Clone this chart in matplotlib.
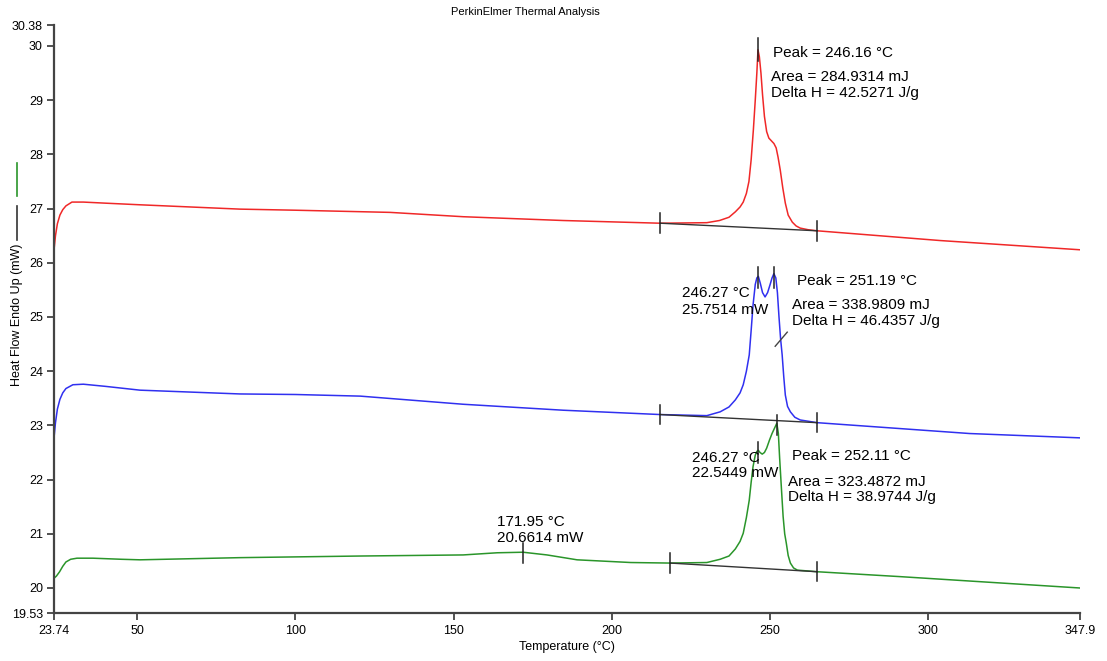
import matplotlib.pyplot as plt
from matplotlib.lines import Line2D

plt.rcParams['font.family'] = ['Liberation Sans', 'DejaVu Sans']

# Courbe rouge
t_red = [23.74, 24.2, 24.8, 25.6, 26.5, 27.5, 29.4, 33, 40, 50.9, 82.5, 100, 129.9, 153, 184.6, 215.3,
         230, 234, 237, 239, 240.5, 241.5, 242.5, 243.3, 244, 244.7, 245.3, 245.8, 246.16,
         246.6, 247.1, 247.6, 248.2, 248.9, 249.6, 250.4, 251.2, 251.9, 252.5, 253.2, 254.0,
         254.8, 255.7, 257.0, 258.2, 259.5, 262, 264.9, 303.8, 347.9]
v_red = [26.24, 26.5, 26.72, 26.88, 26.98, 27.05, 27.12, 27.12, 27.10, 27.07, 26.99, 26.97, 26.93, 26.85, 26.78, 26.73,
         26.74, 26.78, 26.84, 26.94, 27.03, 27.12, 27.28, 27.5, 27.9, 28.45, 29.0, 29.5, 29.93,
         29.8, 29.5, 29.1, 28.7, 28.42, 28.3, 28.25, 28.2, 28.12, 27.95, 27.71, 27.38,
         27.10, 26.88, 26.75, 26.68, 26.64, 26.61, 26.59, 26.41, 26.24]

# Courbe bleue
t_blue = [23.74, 24.2, 24.8, 25.6, 26.5, 27.5, 29.7, 33, 40, 50.9, 82.5, 100, 120.5, 153, 184.6, 215.3,
          230, 234.2, 237, 239, 240.5, 241.5, 242.5, 243.4, 244.0, 244.6, 245.3, 245.8, 246.27,
          246.9, 247.6, 248.4, 249.2, 250.0, 250.6, 251.19, 251.8, 252.3, 252.8, 253.3, 253.8,
          254.3, 254.8, 255.5, 256.4, 257.8, 259.5, 264.9, 313, 347.9]
v_blue = [22.77, 23.05, 23.3, 23.48, 23.6, 23.68, 23.75, 23.76, 23.72, 23.65, 23.58, 23.57, 23.54, 23.39, 23.28, 23.20,
          23.18, 23.25, 23.34, 23.47, 23.6, 23.75, 24.0, 24.3, 24.75, 25.22, 25.6, 25.72, 25.75,
          25.62, 25.45, 25.37, 25.45, 25.6, 25.72, 25.8, 25.72, 25.45, 25.0, 24.6, 24.3,
          23.9, 23.56, 23.35, 23.25, 23.15, 23.10, 23.05, 22.85, 22.77]

# Courbe verte
t_green = [23.74, 24.5, 25.5, 26.5, 27.5, 29, 31, 36, 45, 50.9, 82.5, 120.5, 153, 163.8, 171.95, 179.5,
           189, 206, 218.4, 230, 234.2, 237, 239, 240.5, 241.5, 242.5, 243.4, 244.0, 244.6, 245.3,
           245.8, 246.27, 246.8, 247.5, 248.2, 248.9, 249.8, 250.6, 251.4, 252.11, 252.6, 253.0,
           253.5, 254.1, 254.6, 255.1, 255.7, 256.4, 257.4, 258.6, 264.9, 291, 347.9]
v_green = [20.18, 20.22, 20.3, 20.4, 20.48, 20.53, 20.55, 20.55, 20.53, 20.52, 20.56, 20.59, 20.61, 20.65, 20.66, 20.61,
           20.52, 20.47, 20.46, 20.47, 20.53, 20.59, 20.72, 20.86, 21.01, 21.3, 21.62, 21.95, 22.24, 22.45,
           22.52, 22.54, 22.5, 22.47, 22.5, 22.58, 22.73, 22.85, 22.95, 23.04, 22.85, 22.4,
           21.9, 21.32, 21.0, 20.83, 20.6, 20.46, 20.37, 20.33, 20.30, 20.21, 20.0]

# Lignes de base (début, fin)
base_red = ([215.3, 264.9], [26.73, 26.59])
base_blue = ([215.3, 264.9], [23.20, 23.05])
base_green = ([218.4, 264.9], [20.46, 20.30])

x_ticks = [23.74, 50, 100, 150, 200, 250, 300, 347.9]
x_labels = ['23.74', '50', '100', '150', '200', '250', '300', '347.9']
y_ticks = [19.53, 20, 21, 22, 23, 24, 25, 26, 27, 28, 29, 30, 30.38]
y_labels = ['19.53', '20', '21', '22', '23', '24', '25', '26', '27', '28', '29', '30', '30.38']

fig = plt.figure(figsize=(11.07, 6.61), dpi=100)
ax = fig.add_axes([0.0488, 0.0719, 0.9268, 0.8897])

ax.plot(t_red, v_red, color='#f02828', lw=1.1)
ax.plot(t_blue, v_blue, color='#3030f0', lw=1.1)
ax.plot(t_green, v_green, color='#2a952a', lw=1.1)

for bx, by in (base_red, base_blue, base_green):
    ax.plot(bx, by, color='#333333', lw=1.0)
    for xx, yy in zip(bx, by):
        ax.plot([xx, xx], [yy - 0.18, yy + 0.18], color='#222222', lw=1.1)

# marques des pics
marks = [(246.16, 29.72, 30.15), (246.27, 25.53, 25.93), (251.3, 25.53, 25.93),
         (171.95, 20.46, 20.83), (246.27, 22.30, 22.70), (252.11, 22.82, 23.19)]
for xx, y0, y1 in marks:
    ax.plot([xx, xx], [y0, y1], color='#222222', lw=1.1)
ax.plot([251.6, 255.4], [24.46, 24.72], color='#444444', lw=1.0)

fs = 11
ax.text(250.9, 29.87, 'Peak = 246.16 °C', fontsize=fs, va='center')
ax.text(250.3, 29.43, 'Area = 284.9314 mJ', fontsize=fs, va='center')
ax.text(250.3, 29.14, 'Delta H = 42.5271 J/g', fontsize=fs, va='center')

ax.text(258.4, 25.67, 'Peak = 251.19 °C', fontsize=fs, va='center')
ax.text(256.9, 25.22, 'Area = 338.9809 mJ', fontsize=fs, va='center')
ax.text(256.9, 24.93, 'Delta H = 46.4357 J/g', fontsize=fs, va='center')
ax.text(222.2, 25.44, '246.27 °C', fontsize=fs, va='center')
ax.text(222.2, 25.13, '25.7514 mW', fontsize=fs, va='center')

ax.text(225.3, 22.40, '246.27 °C', fontsize=fs, va='center')
ax.text(225.3, 22.12, '22.5449 mW', fontsize=fs, va='center')
ax.text(256.9, 22.43, 'Peak = 252.11 °C', fontsize=fs, va='center')
ax.text(255.7, 21.96, 'Area = 323.4872 mJ', fontsize=fs, va='center')
ax.text(255.7, 21.68, 'Delta H = 38.9744 J/g', fontsize=fs, va='center')

ax.text(163.7, 21.22, '171.95 °C', fontsize=fs, va='center')
ax.text(163.7, 20.92, '20.6614 mW', fontsize=fs, va='center')

ax.set_xlim(23.74, 347.9)
ax.set_ylim(19.53, 30.38)
ax.set_xticks(x_ticks)
ax.set_xticklabels(x_labels)
ax.set_yticks(y_ticks)
ax.set_yticklabels(y_labels)
ax.tick_params(labelsize=9, length=5, width=1.2, color='#333333', pad=3)
for s in ('top', 'right'):
    ax.spines[s].set_visible(False)
for s in ('left', 'bottom'):
    ax.spines[s].set_linewidth(1.6)
    ax.spines[s].set_color('#444444')

ax.set_xlabel('Temperature (°C)', fontsize=9, labelpad=3)
fig.text(17 / 1107, 1 - 315 / 661, 'Heat Flow Endo Up (mW)', fontsize=9,
         rotation=90, ha='center', va='center')
fig.text(0.475, 0.982, 'PerkinElmer Thermal Analysis', fontsize=8, ha='center', va='center')

# petits repères de légende à gauche
fig.add_artist(Line2D([0.0154, 0.0154], [1 - 163 / 661, 1 - 196 / 661], color='#2a952a', lw=1.2))
fig.add_artist(Line2D([0.0154, 0.0154], [1 - 206 / 661, 1 - 240 / 661], color='#333333', lw=1.2))

fig.savefig('out.png', dpi=100)
